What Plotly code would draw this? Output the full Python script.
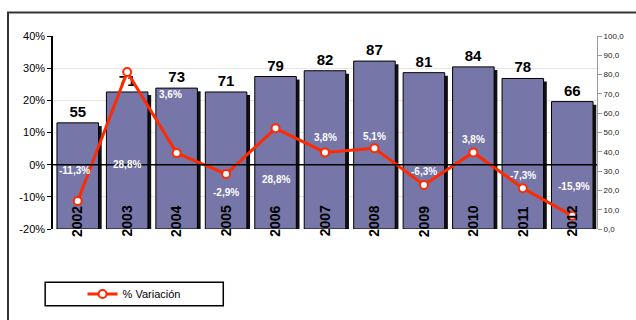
import plotly.graph_objects as go

years = ["2002", "2003", "2004", "2005", "2006", "2007", "2008", "2009", "2010", "2011", "2012"]
counts = [55, 71, 73, 71, 79, 82, 87, 81, 84, 78, 66]
variation_pct = [-11.3, 28.8, 3.6, -2.9, 11.3, 3.8, 5.1, -6.3, 3.8, -7.3, -15.9]
label_texts = ["-11,3%", "28,8%", "3,6%", "-2,9%", "28,8%", "3,8%", "5,1%", "-6,3%", "3,8%", "-7,3%", "-15,9%"]
left_ticks = [-20, -10, 0, 10, 20, 30, 40]
right_ticks = [0, 10, 20, 30, 40, 50, 60, 70, 80, 90, 100]

# style: pixel shift of each data label from its point
label_shift_px = [31, -92, 59, -18, -51, 15, 12, 13, 13, 13, 29]
label_xshift_px = [-3, 0, -6, 0, 0, 0, 0, 0, 0, 0, 2]

BAR = "#7676A8"
RED = "#FF2A00"
FONT = "Liberation Sans, Arial, sans-serif"

xs = list(range(len(years)))
fig = go.Figure()

# shadow bars
fig.add_trace(go.Bar(
    x=xs, y=[c - 1.6 for c in counts], width=0.84, offset=-0.42 + 0.065,
    marker=dict(color="#111111", line=dict(width=0)), yaxis="y",
    showlegend=False, hoverinfo="skip"))
# main bars
fig.add_trace(go.Bar(
    x=xs, y=counts, width=0.84, offset=-0.42,
    marker=dict(color=BAR, line=dict(color="#000000", width=1)), yaxis="y",
    text=[str(c) for c in counts], textposition="outside",
    textfont=dict(family=FONT, size=15, color="#000000", weight="bold"),
    cliponaxis=False, showlegend=False, hoverinfo="skip"))
# variation line
fig.add_trace(go.Scatter(
    x=xs, y=variation_pct, yaxis="y2", mode="lines+markers", name="% Variación",
    line=dict(color=RED, width=3),
    marker=dict(size=8, color="white", line=dict(color=RED, width=2)),
    cliponaxis=False))

annotations = []
for i, (t, v) in enumerate(zip(label_texts, variation_pct)):
    annotations.append(dict(x=xs[i], y=v, xref="x", yref="y2", text=t, showarrow=False,
                            yshift=label_shift_px[i], xshift=label_xshift_px[i],
                            font=dict(family=FONT, size=10, color="white", weight="bold")))
for i, yv in enumerate(years):
    annotations.append(dict(x=xs[i], y=0.04, xref="x", yref="paper", text=yv, showarrow=False,
                            textangle=-90, yanchor="middle", xanchor="center",
                            font=dict(family=FONT, size=14, color="#000000", weight="bold")))

shapes = [
    dict(type="line", xref="paper", yref="y2", x0=0, x1=1, y0=0, y1=0,
         line=dict(color="#000000", width=1.5), layer="above"),
    dict(type="rect", xref="paper", yref="paper", x0=-0.0144, x1=0.313, y0=-0.398, y1=-0.276,
         line=dict(color="#000000", width=1.5), fillcolor="rgba(0,0,0,0)"),
    dict(type="rect", xref="paper", yref="paper", x0=-0.0827, x1=1.2, y0=-0.6, y1=1.122,
         line=dict(color="#333333", width=2), fillcolor="rgba(0,0,0,0)"),
]

fig.update_layout(
    width=636, height=320,
    margin=dict(l=53, r=27, t=36, b=88),
    paper_bgcolor="white", plot_bgcolor="white",
    barmode="overlay",
    font=dict(family=FONT, color="#000000"),
    xaxis=dict(range=[-0.5, len(years) - 0.5], showticklabels=False, showgrid=False,
               zeroline=False, showline=False, ticks=""),
    yaxis=dict(side="right", range=[0, 100], tickvals=right_ticks,
               ticktext=[f"{v:.1f}".replace(".", ",") for v in right_ticks],
               showgrid=False, zeroline=False, showline=True, linecolor="#999999", linewidth=1,
               ticks="outside", ticklen=4, tickcolor="#999999",
               tickfont=dict(family=FONT, size=8, color="#222222")),
    yaxis2=dict(overlaying="y", side="left", range=[-20, 40], tickvals=left_ticks,
                ticktext=[f"{v}%" for v in left_ticks],
                showgrid=True, gridcolor="#E6E6E6", gridwidth=1, zeroline=False,
                showline=True, linecolor="#000000", linewidth=1.5,
                ticks="outside", ticklen=4, tickcolor="#000000",
                tickfont=dict(family=FONT, size=11, color="#000000")),
    showlegend=True,
    legend=dict(x=0.149, y=-0.337, xanchor="center", yanchor="middle",
                bgcolor="rgba(0,0,0,0)", borderwidth=0,
                font=dict(family=FONT, size=11, color="#000000"), itemwidth=30),
    annotations=annotations,
    shapes=shapes,
)

fig.write_html("out.html")
